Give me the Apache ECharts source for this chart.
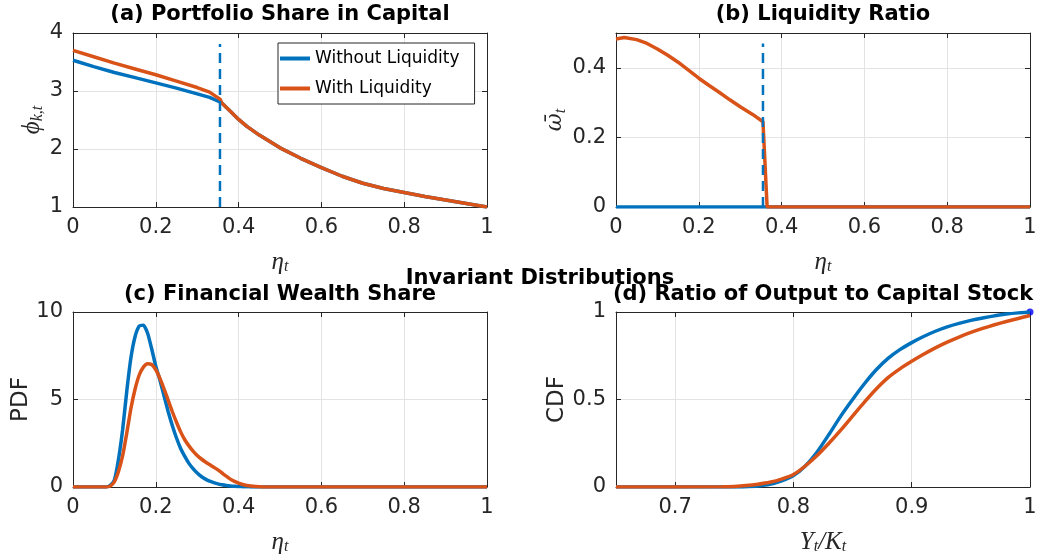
<!DOCTYPE html>
<html>
<head>
<meta charset="utf-8">
<script src="https://cdn.jsdelivr.net/npm/echarts@6/dist/echarts.min.js"></script>
<style>
  html, body { margin: 0; padding: 0; background: #fff; }
  #chart { width: 1050px; height: 556px; }
</style>
</head>
<body>
<div id="chart"></div>
<script>
// (a) portfolio share in capital
var etaA = [0, 0.05, 0.1, 0.15, 0.2, 0.25, 0.3, 0.33, 0.355, 0.36, 0.38, 0.4, 0.42, 0.45, 0.5, 0.55, 0.6, 0.65, 0.7, 0.75, 0.8, 0.85, 0.9, 0.95, 1]
var phiNoLiq = [3.53, 3.42, 3.32, 3.23, 3.14, 3.05, 2.95, 2.89, 2.81, 2.79, 2.65, 2.51, 2.39, 2.24, 2.02, 1.84, 1.68, 1.53, 1.41, 1.32, 1.25, 1.18, 1.12, 1.06, 1.0]
var phiLiq = [3.70, 3.59, 3.48, 3.38, 3.28, 3.17, 3.06, 2.98, 2.86, 2.79, 2.65, 2.51, 2.39, 2.24, 2.02, 1.84, 1.68, 1.53, 1.41, 1.32, 1.25, 1.18, 1.12, 1.06, 1.0]

// (b) liquidity ratio
var etaB = [0, 0.02, 0.05, 0.075, 0.1, 0.125, 0.15, 0.175, 0.2, 0.225, 0.25, 0.275, 0.3, 0.33, 0.355, 0.365, 1]
var omegaLiq = [0.483, 0.487, 0.481, 0.470, 0.454, 0.436, 0.416, 0.393, 0.370, 0.349, 0.329, 0.308, 0.288, 0.266, 0.245, 0, 0]
var etaB0 = [0, 1]
var omegaNoLiq = [0, 0]

// cutoff (dashed)
var cutoffEta = [0.355, 0.355]
var cutoffA = [1, 3.81]
var cutoffB = [0, 0.47]

// (c) pdf of financial wealth share
var etaC = [0, 0.08, 0.09, 0.1, 0.11, 0.12, 0.13, 0.14, 0.15, 0.16, 0.17, 0.18, 0.19, 0.2, 0.21, 0.22, 0.23, 0.24, 0.25, 0.26, 0.27, 0.28, 0.29, 0.3,
  0.31, 0.32, 0.33, 0.34, 0.35, 0.36, 0.37, 0.38, 0.39, 0.4, 0.41, 0.42, 0.43, 0.45, 0.47, 0.5, 1]
var pdfNoLiq = [0, 0, 0.1, 0.4, 1.6, 3.3, 5.5, 7.4, 8.6, 9.2, 9.25, 8.8, 7.9, 6.9, 6.1, 5.2, 4.3, 3.5, 2.8, 2.2, 1.75, 1.35, 1.05, 0.8,
  0.6, 0.45, 0.33, 0.25, 0.18, 0.13, 0.09, 0.06, 0.04, 0.03, 0.02, 0.01, 0.005, 0, 0, 0, 0]
var pdfLiq = [0, 0, 0.05, 0.3, 0.9, 1.8, 3.1, 4.5, 5.6, 6.4, 6.85, 7.05, 7.0, 6.7, 6.2, 5.6, 4.95, 4.3, 3.7, 3.15, 2.7, 2.35, 2.05, 1.8,
  1.6, 1.43, 1.28, 1.13, 0.98, 0.8, 0.62, 0.45, 0.32, 0.22, 0.14, 0.09, 0.06, 0.02, 0.005, 0, 0]

// (d) cdf of output / capital
var ykD = [0.65, 0.74, 0.75, 0.76, 0.77, 0.78, 0.79, 0.8, 0.81, 0.82, 0.83, 0.84, 0.85, 0.86, 0.87, 0.88, 0.89, 0.9,
  0.91, 0.92, 0.93, 0.94, 0.95, 0.96, 0.97, 0.98, 0.99, 1]
var cdfNoLiq = [0, 0, 0, 0.002, 0.006, 0.015, 0.035, 0.065, 0.12, 0.2, 0.3, 0.405, 0.5, 0.59, 0.67, 0.735, 0.785, 0.825,
  0.86, 0.89, 0.915, 0.935, 0.952, 0.966, 0.978, 0.988, 0.995, 1.0]
var cdfLiq = [0, 0.001, 0.003, 0.008, 0.016, 0.027, 0.045, 0.071, 0.12, 0.18, 0.25, 0.325, 0.405, 0.485, 0.56, 0.625, 0.675, 0.718,
  0.758, 0.795, 0.828, 0.857, 0.883, 0.906, 0.927, 0.946, 0.963, 0.98]
var dotX = [1]
var dotY = [1]
var ticksD = [0.7, 0.8, 0.9, 1]

var blue = '#0072BD'
var orange = '#D95319'
var ink = '#262626'
var gridColor = '#e3e3e3'

var grids = [
  { left: 73, top: 33, width: 414, height: 174 },
  { left: 616, top: 33, width: 414, height: 174 },
  { left: 73, top: 312, width: 414, height: 175 },
  { left: 616, top: 312, width: 414, height: 175 }
]

var mathRich = {
  m: { fontFamily: 'Liberation Serif', fontStyle: 'italic', fontSize: 25, color: ink },
  w: { fontFamily: 'DejaVu Serif', fontStyle: 'italic', fontSize: 22, color: ink },
  s: { fontFamily: 'Liberation Serif', fontStyle: 'italic', fontSize: 16, color: ink, padding: [10, 0, 0, 0] },
  t: { fontFamily: 'DejaVu Sans', fontSize: 23, color: ink }
}

function zip(xs, ys) {
  return xs.map(function (x, i) { return [x, ys[i]] })
}

function xAxes(g, min, max, interval, name, custom) {
  var main = {
    type: 'value', gridIndex: g, position: 'bottom', min: min, max: max,
    name: name, nameLocation: 'middle', nameGap: 42,
    nameTextStyle: { rich: mathRich },
    axisLine: { show: true, onZero: false, lineStyle: { color: ink, width: 1 } },
    axisTick: { show: true, inside: true, length: 5, lineStyle: { color: ink } },
    axisLabel: { fontFamily: 'DejaVu Sans', fontSize: 21, color: ink, margin: 10 },
    splitLine: { show: true, lineStyle: { color: gridColor } }
  }
  var top = {
    type: 'value', gridIndex: g, position: 'top', min: min, max: max,
    axisLine: { show: true, onZero: false, lineStyle: { color: ink, width: 1 } },
    axisTick: { show: true, inside: true, length: 5, lineStyle: { color: ink } },
    axisLabel: { show: false },
    splitLine: { show: false }
  }
  if (custom) {
    main.axisTick.customValues = custom
    main.axisLabel.customValues = custom
    top.axisTick.customValues = custom
  } else {
    main.interval = interval
    top.interval = interval
  }
  return [main, top]
}

function yAxes(g, min, max, interval, name, gap) {
  return [{
    type: 'value', gridIndex: g, position: 'left', min: min, max: max, interval: interval,
    name: name, nameLocation: 'middle', nameRotate: 90, nameGap: gap,
    nameTextStyle: { rich: mathRich },
    axisLine: { show: true, onZero: false, lineStyle: { color: ink, width: 1 } },
    axisTick: { show: true, inside: true, length: 5, lineStyle: { color: ink } },
    axisLabel: { fontFamily: 'DejaVu Sans', fontSize: 21, color: ink, margin: 10, showMaxLabel: (max % interval === 0) ? null : false },
    splitLine: { show: true, lineStyle: { color: gridColor } }
  }, {
    type: 'value', gridIndex: g, position: 'right', min: min, max: max, interval: interval,
    axisLine: { show: true, onZero: false, lineStyle: { color: ink, width: 1 } },
    axisTick: { show: true, inside: true, length: 5, lineStyle: { color: ink } },
    axisLabel: { show: false },
    splitLine: { show: false }
  }]
}

function curve(g, name, color, data, extra) {
  var s = {
    type: 'line', name: name, xAxisIndex: 2 * g, yAxisIndex: 2 * g,
    data: data, symbol: 'none', showSymbol: false, silent: true,
    lineStyle: { color: color, width: 3.5 }, itemStyle: { color: color }
  }
  for (var k in extra) s[k] = extra[k]
  return s
}

var dashed = { lineStyle: { color: blue, width: 2.5, type: [10, 6] } }

var xAxis = []
  .concat(xAxes(0, 0, 1, 0.2, '{m|η}{s|t}'))
  .concat(xAxes(1, 0, 1, 0.2, '{m|η}{s|t}'))
  .concat(xAxes(2, 0, 1, 0.2, '{m|η}{s|t}'))
  .concat(xAxes(3, 0.65, 1, null, '{m|Y}{s|t}{m|/K}{s|t}', ticksD))

var yAxis = []
  .concat(yAxes(0, 1, 4, 1, '{m|ϕ}{s|k,t}', 26))
  .concat(yAxes(1, 0, 0.5, 0.2, '{w|ω̄}{s|t}', 42))
  .concat(yAxes(2, 0, 10, 5, '{t|PDF}', 38))
  .concat(yAxes(3, 0, 1, 0.5, '{t|CDF}', 42))

var titleFont = 'bold 21px "DejaVu Sans"'
function title(x, y, text) {
  return { type: 'text', x: x, y: y, style: { text: text, font: titleFont, fill: '#000', textAlign: 'center', textVerticalAlign: 'middle' } }
}

var option = {
  animation: false,
  backgroundColor: '#fff',
  grid: grids,
  xAxis: xAxis,
  yAxis: yAxis,
  legend: {
    data: ['Without Liquidity', 'With Liquidity'],
    orient: 'vertical', left: 278, top: 43,
    padding: [7, 15, 7, 2], itemGap: 13, itemWidth: 30, itemHeight: 4, icon: 'rect',
    backgroundColor: '#fff', borderColor: ink, borderWidth: 1,
    textStyle: { fontFamily: 'DejaVu Sans', fontSize: 17, color: '#000' },
    selectedMode: false
  },
  graphic: [
    title(280, 15, '(a) Portfolio Share in Capital'),
    title(823, 15, '(b) Liquidity Ratio'),
    title(540, 279, 'Invariant Distributions'),
    title(280, 295, '(c) Financial Wealth Share'),
    title(823, 295, '(d) Ratio of Output to Capital Stock')
  ],
  series: [
    curve(0, 'Without Liquidity', blue, zip(etaA, phiNoLiq)),
    curve(0, 'With Liquidity', orange, zip(etaA, phiLiq)),
    curve(0, 'cutoff', blue, zip(cutoffEta, cutoffA), dashed),
    curve(1, 'Without Liquidity', blue, zip(etaB0, omegaNoLiq)),
    curve(1, 'With Liquidity', orange, zip(etaB, omegaLiq)),
    curve(1, 'cutoff', blue, zip(cutoffEta, cutoffB), dashed),
    curve(2, 'Without Liquidity', blue, zip(etaC, pdfNoLiq), { smooth: 0.2 }),
    curve(2, 'With Liquidity', orange, zip(etaC, pdfLiq), { smooth: 0.2 }),
    curve(3, 'Without Liquidity', blue, zip(ykD, cdfNoLiq), { smooth: 0.2 }),
    curve(3, 'With Liquidity', orange, zip(ykD, cdfLiq), { smooth: 0.2 }),
    {
      type: 'scatter', name: 'end', xAxisIndex: 6, yAxisIndex: 6,
      data: zip(dotX, dotY), symbol: 'circle', symbolSize: 7,
      itemStyle: { color: '#0000FF' }, silent: true
    }
  ]
}

var chart = echarts.init(document.getElementById('chart'), null, { renderer: 'canvas' })
chart.setOption(option)
</script>
</body>
</html>
